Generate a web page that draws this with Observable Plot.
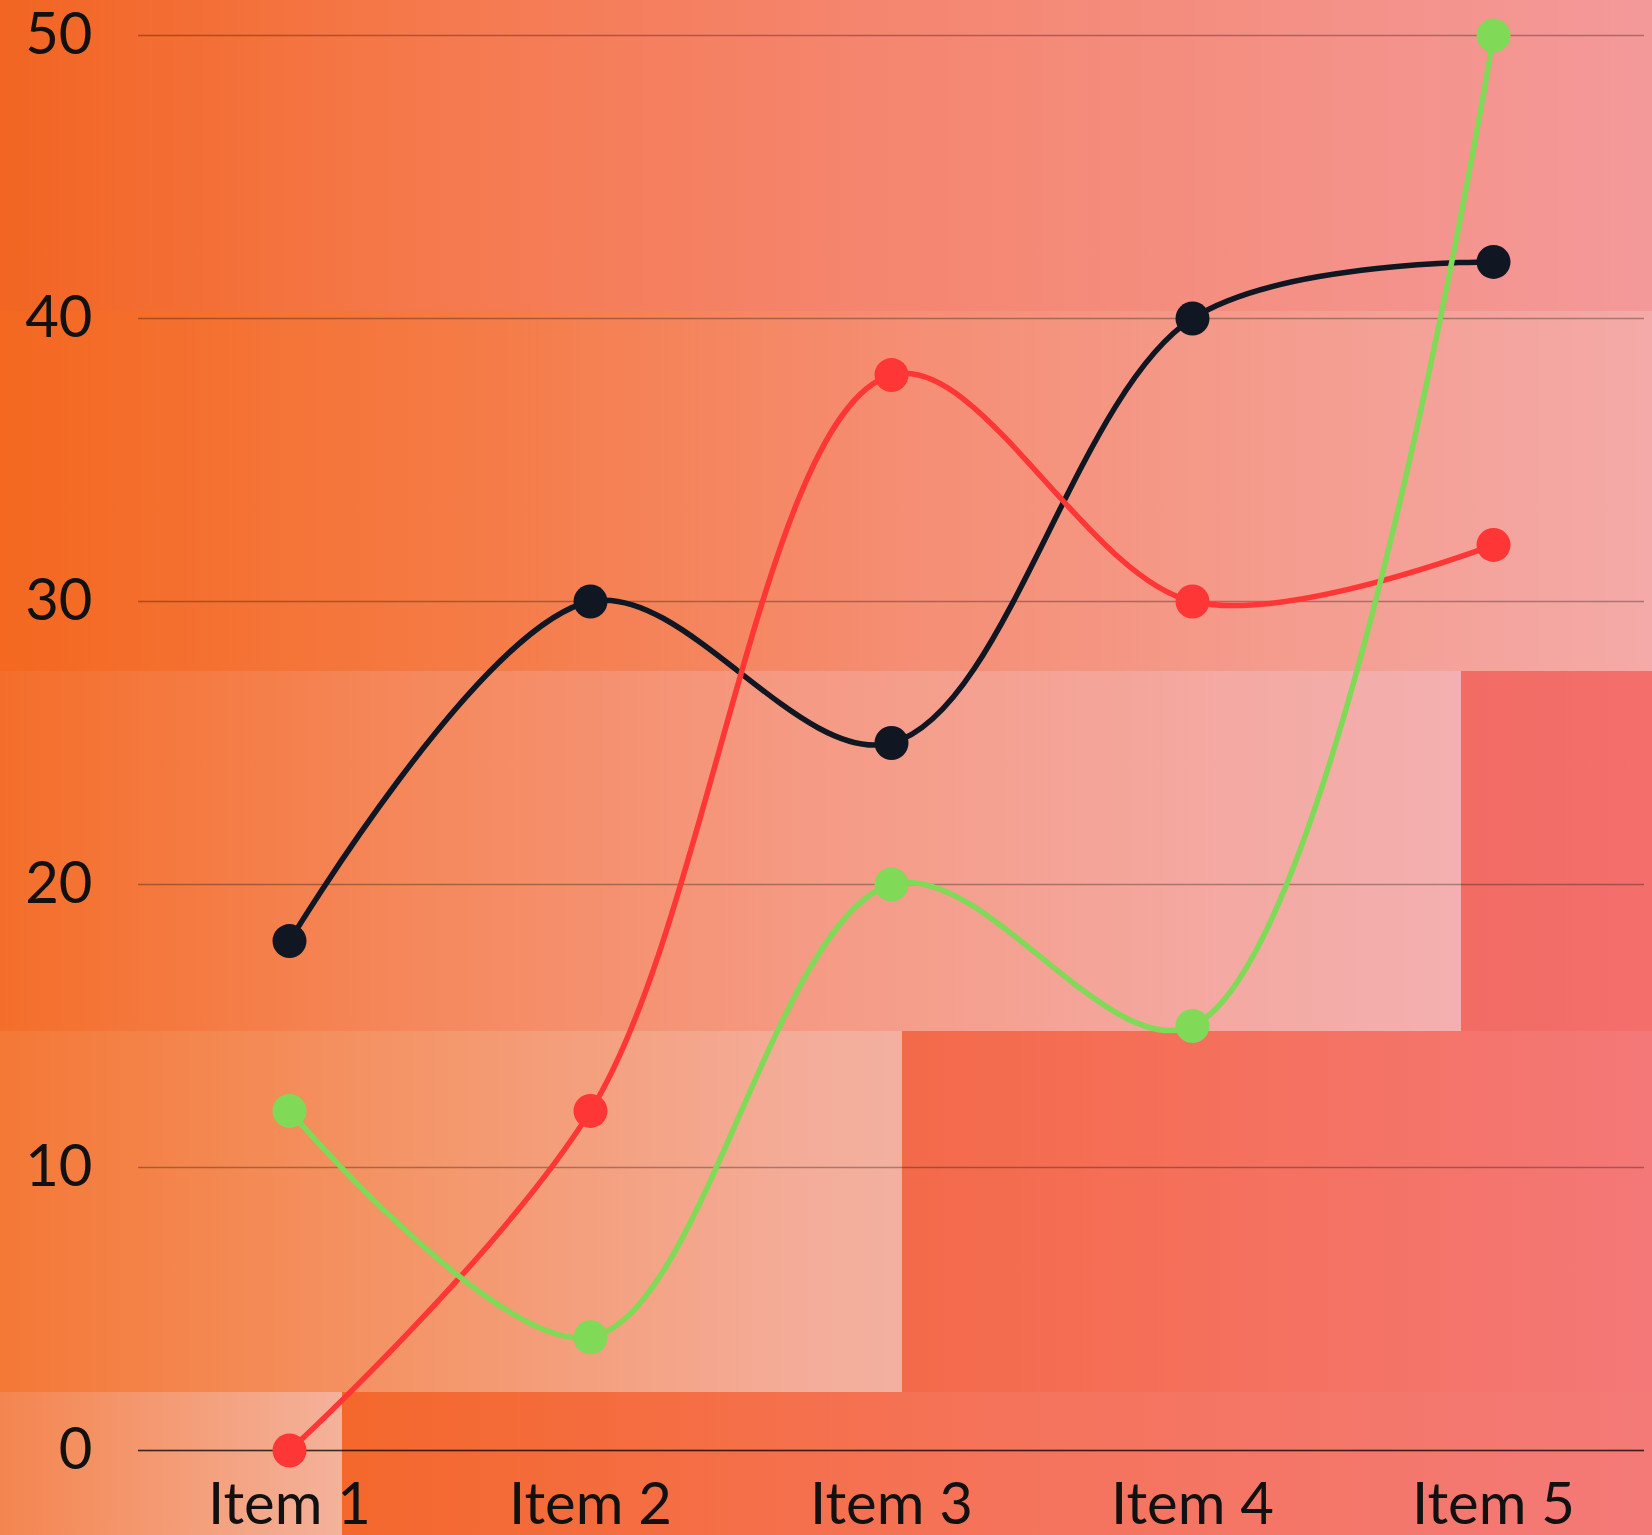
<!DOCTYPE html>
<html>
<head>
<meta charset="utf-8">
<script src="https://cdn.jsdelivr.net/npm/d3@7"></script>
<script src="https://cdn.jsdelivr.net/npm/@observablehq/plot@0.6"></script>
<style>
  html, body { margin: 0; padding: 0; background: #f26522; }
  #chart {
    position: relative;
    width: 1652px;
    height: 1535px;
    overflow: hidden;
    background-repeat: no-repeat;
    background-image:
      linear-gradient(90deg, #f26522, #f5784a 24%, #f5846c 50%, #f48e80 73%, #f4999a),
      linear-gradient(90deg, #f46820, #f57c48 30%, #f58e74 55%, #f4aaa8),
      linear-gradient(90deg, #f46e2a, #f5875a 27%, #f59a84 55%, #f4a8a0 82%, #f3b0b0),
      linear-gradient(90deg, #f26c64, #f46e6c),
      linear-gradient(90deg, #f47836, #f49568 45%, #f4ac98 88%, #f3b0a0),
      linear-gradient(90deg, #f36a4a, #f56e55 27%, #f47878),
      linear-gradient(90deg, #f4854f, #f4b29b),
      linear-gradient(90deg, #f4682c, #f5735a 50%, #f47a78);
    background-position:
      0 0,
      0 311px,
      0 671px,
      1461px 671px,
      0 1031px,
      902px 1031px,
      0 1392px,
      342px 1392px;
    background-size:
      1652px 311px,
      1652px 360px,
      1461px 360px,
      191px 360px,
      902px 361px,
      750px 361px,
      342px 143px,
      1310px 143px;
  }
  #chart svg { display: block; overflow: visible; }
</style>
</head>
<body>
<div id="chart"></div>
<script>
const categories = ["Item 1", "Item 2", "Item 3", "Item 4", "Item 5"];
const seriesNames = ["Series 1", "Series 2", "Series 3"];
const series1 = [18, 30, 25, 40, 42];
const series2 = [0, 12, 38, 30, 32];
const series3 = [12, 4, 20, 15, 50];
const seriesColors = ["#111722", "#ff3636", "#80d957"];
const yTicks = [0, 10, 20, 30, 40, 50];

const allSeries = [series1, series2, series3];
const data = [];
allSeries.forEach((vals, si) => {
  vals.forEach((v, i) => data.push({category: categories[i], value: v, series: seriesNames[si]}));
});

const chart = Plot.plot({
  width: 1652,
  height: 1535,
  marginLeft: 138,
  marginRight: 8,
  marginTop: 35,
  marginBottom: 85,
  style: {background: "transparent", fontFamily: "Lato, 'Noto Sans', sans-serif", fontSize: "58px", color: "#111", overflow: "visible"},
  x: {type: "point", domain: categories, padding: 0.5, label: null},
  y: {domain: [0, 50], label: null},
  color: {domain: seriesNames, range: seriesColors},
  marks: [
    Plot.gridY(yTicks, {stroke: "#000", strokeOpacity: 0.3, strokeWidth: 1.3}),
    Plot.ruleY([0], {stroke: "#000", strokeOpacity: 0.65, strokeWidth: 1.5}),
    Plot.axisY(yTicks, {tickSize: 0, tickPadding: 46, fontSize: 58, label: null}),
    Plot.axisX({tickSize: 0, tickPadding: 32, fontSize: 58, label: null}),
    Plot.line(data, {x: "category", y: "value", stroke: "series", z: "series", curve: "catmull-rom", strokeWidth: 5.5}),
    Plot.dot(data, {x: "category", y: "value", fill: "series", r: 17})
  ]
});
document.getElementById("chart").appendChild(chart);
</script>
</body>
</html>
